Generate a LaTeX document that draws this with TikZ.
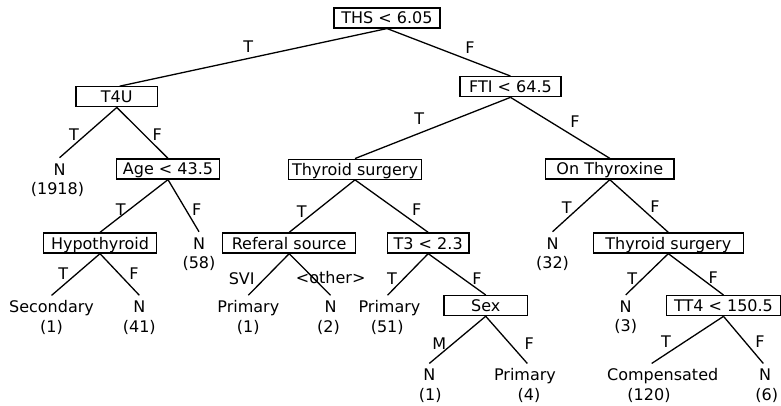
\documentclass[tikz,border=0pt]{standalone}
\usepackage{fontspec}
\setmainfont{DejaVu Sans}
\begin{document}
\begin{tikzpicture}[x=1pt,y=-1pt,
  every node/.style={font=\fontsize{16pt}{19.5pt}\selectfont},
  box/.style={draw, line width=1.3pt, inner sep=0pt, minimum height=20pt, text height=14pt, text depth=2pt},
  leaf/.style={inner xsep=0pt, inner ysep=5.5pt, text height=11.7pt, text depth=0pt},
  cnt/.style={inner sep=0pt, anchor=base},
  lbl/.style={inner sep=0pt, text height=11.7pt, text depth=0pt},
  edge/.style={line width=1.3pt}]
\useasboundingbox (0,0) rectangle (781,406);
% decision boxes
\node[box, minimum width=106pt] (ths) at (387,17.9) {THS < 6.05};
\node[box, minimum width=81.7pt] (t4u) at (116.8,96.8) {T4U};
\node[box, minimum width=101pt] (fti) at (510.5,86.7) {FTI < 64.5};
\node[box, minimum width=102.6pt] (age) at (168,169) {Age < 43.5};
\node[box, minimum width=133pt] (ts1) at (355,169.2) {Thyroid surgery};
\node[box, minimum width=128.3pt] (onth) at (609.8,169) {On Thyroxine};
\node[box, minimum width=113.4pt] (hypo) at (100,243) {Hypothyroid};
\node[box, minimum width=133pt] (ref) at (289.2,243) {Referal source};
\node[box, minimum width=81.7pt] (t3) at (428.2,243) {T3 < 2.3};
\node[box, minimum width=150pt] (ts2) at (668.3,243) {Thyroid surgery};
\node[box, minimum width=83.3pt] (sex) at (485.7,305.6) {Sex};
\node[box, minimum width=114pt] (tt4) at (723.5,305.7) {TT4 < 150.5};
% leaves
\node[leaf] (n1918) at (59.5,169.3) {N};
\node[cnt] (c1918) at ([xshift=-2pt,yshift=-19.5pt]n1918.base) {(1918)};
\node[leaf] (n58) at (199,243.3) {N};
\node[cnt] (c58) at ([yshift=-19.5pt]n58.base) {(58)};
\node[leaf] (n32) at (552.5,243.3) {N};
\node[cnt] (c32) at ([yshift=-19.5pt]n32.base) {(32)};
\node[leaf] (sec) at (51.5,307) {Secondary};
\node[cnt] (csec) at ([yshift=-19.5pt]sec.base) {(1)};
\node[leaf] (n41) at (139.3,306.8) {N};
\node[cnt] (c41) at ([yshift=-19.5pt]n41.base) {(41)};
\node[leaf] (p1) at (248.3,306.8) {Primary};
\node[cnt] (cp1) at ([yshift=-19.5pt]p1.base) {(1)};
\node[leaf] (n2) at (330.5,306.8) {N};
\node[cnt] (cn2) at ([xshift=-2pt,yshift=-19.5pt]n2.base) {(2)};
\node[leaf] (p51) at (389.5,306.8) {Primary};
\node[cnt] (cp51) at ([xshift=-2.3pt,yshift=-19.5pt]p51.base) {(51)};
\node[leaf] (n3) at (625.7,306.5) {N};
\node[cnt] (cn3) at ([yshift=-19.5pt]n3.base) {(3)};
\node[leaf] (n1) at (429.3,375) {N};
\node[cnt] (cn1) at ([xshift=1pt,yshift=-19.5pt]n1.base) {(1)};
\node[leaf] (p4) at (525,375) {Primary};
\node[cnt] (cp4) at ([xshift=4pt,yshift=-19.5pt]p4.base) {(4)};
\node[leaf] (comp) at (662.7,375) {Compensated};
\node[cnt] (ccomp) at ([xshift=-13.7pt,yshift=-19.5pt]comp.base) {(120)};
\node[leaf] (n6) at (765,375) {N};
\node[cnt] (cn6) at ([xshift=1.7pt,yshift=-19.5pt]n6.base) {(6)};
% connectors
\draw[edge] (ths.south) -- ([xshift=3pt]t4u.north);
\draw[edge] (ths.south) -- (fti.north);
\draw[edge] (t4u.south) -- (n1918.north);
\draw[edge] (t4u.south) -- (age.north);
\draw[edge] (fti.south) -- (ts1.north);
\draw[edge] (fti.south) -- (onth.north);
\draw[edge] (age.south) -- (hypo.north);
\draw[edge] (age.south) -- (n58.north);
\draw[edge] (ts1.south) -- (ref.north);
\draw[edge] (ts1.south) -- (t3.north);
\draw[edge] (onth.south) -- (n32.north);
\draw[edge] (onth.south) -- (ts2.north);
\draw[edge] (hypo.south) -- (sec.north);
\draw[edge] (hypo.south) -- (n41.north);
\draw[edge] (ref.south) -- (p1.north);
\draw[edge] (ref.south) -- (n2.north);
\draw[edge] (t3.south) -- ([xshift=-2pt]p51.north);
\draw[edge] (t3.south) -- (sex.north);
\draw[edge] (ts2.south) -- (n3.north);
\draw[edge] (ts2.south) -- (tt4.north);
\draw[edge] (sex.south) -- (n1.north);
\draw[edge] (sex.south) -- ([xshift=2.3pt]p4.north);
\draw[edge] (tt4.south) -- ([xshift=-11pt]comp.north);
\draw[edge] (tt4.south) -- ([xshift=-1.7pt]n6.north);
% edge labels
\node[lbl] (l1) at (248.3,46.7) {T};
\node[lbl] (l2) at (470,47.7) {F};
\node[lbl] (l3) at (74,134.3) {T};
\node[lbl] (l4) at (157.3,134.3) {F};
\node[lbl] (l5) at (419.3,118.3) {T};
\node[lbl] (l6) at (575,121.7) {F};
\node[lbl] (l7) at (120.7,210) {T};
\node[lbl] (l8) at (196.7,209.3) {F};
\node[lbl] (l9) at (301.7,211.3) {T};
\node[lbl] (l10) at (416.7,210) {F};
\node[lbl] (l11) at (566.7,207.3) {T};
\node[lbl] (l12) at (655,207) {F};
\node[lbl] (l13) at (63.3,273.3) {T};
\node[lbl] (l14) at (134,273.3) {F};
\node[lbl] (l15) at (241.7,278.3) {SVI};
\node[lbl] (l16) at (330.7,278) {<other>};
\node[lbl] (l17) at (392,278.3) {T};
\node[lbl] (l18) at (477,278.3) {F};
\node[lbl] (l19) at (632.3,278.8) {T};
\node[lbl] (l20) at (713.3,277.3) {F};
\node[lbl] (l21) at (439.3,344) {M};
\node[lbl] (l22) at (529.3,344) {F};
\node[lbl] (l23) at (666,341.7) {T};
\node[lbl] (l24) at (760,341.7) {F};
\end{tikzpicture}
\end{document}
